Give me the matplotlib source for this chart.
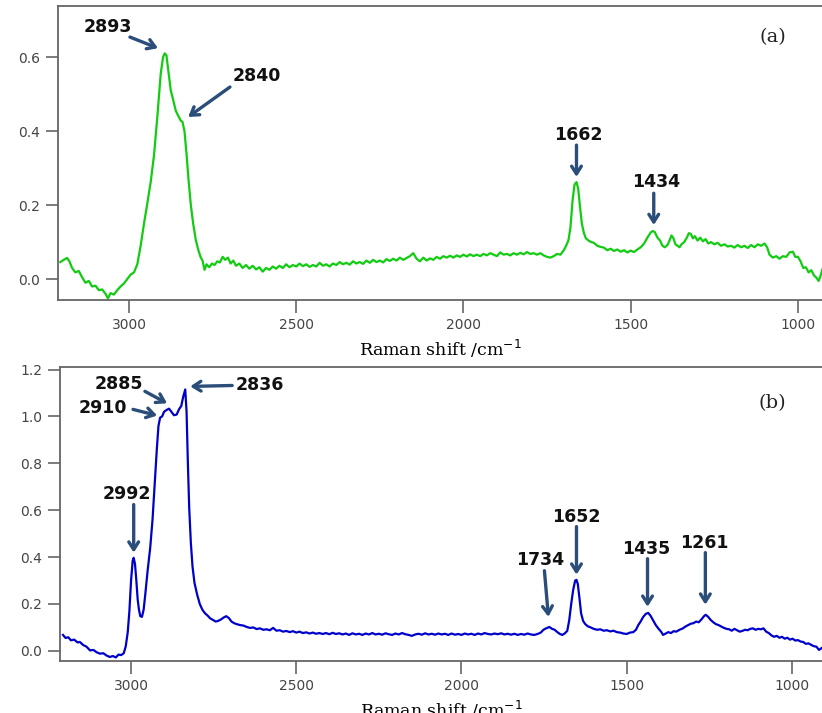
import numpy as np
import matplotlib
matplotlib.use("Agg")
import matplotlib.pyplot as plt

# (a) spectrum
shift_a = [3205, 3195, 3185, 3178, 3170, 3160, 3150, 3140, 3130, 3120, 3110, 3100, 3090, 3080,
           3070, 3063, 3055, 3045, 3035, 3025, 3015, 3005, 2995, 2985, 2975, 2965, 2955, 2945,
           2935, 2925, 2915, 2905, 2898, 2893, 2888, 2882, 2875, 2868, 2860, 2852, 2845, 2840,
           2834, 2828, 2822, 2815, 2808, 2800, 2793, 2786, 2780, 2774, 2768, 2760, 2752, 2744,
           2736, 2728, 2720, 2712, 2704, 2696, 2688, 2680, 2670, 2660, 2650, 2640, 2630, 2620,
           2610, 2600, 2590, 2580, 2570, 2560, 2550, 2540, 2530, 2520, 2510, 2500, 2490, 2480,
           2470, 2460, 2450, 2440, 2430, 2420, 2410, 2400, 2390, 2380, 2370, 2360, 2350, 2340,
           2330, 2320, 2310, 2300, 2290, 2280, 2270, 2260, 2250, 2240, 2230, 2220, 2210, 2200,
           2190, 2180, 2170, 2160, 2150, 2140, 2130, 2120, 2110, 2100, 2090, 2080, 2070, 2060,
           2050, 2040, 2030, 2020, 2010, 2000, 1990, 1980, 1970, 1960, 1950, 1940, 1930, 1920,
           1910, 1900, 1890, 1880, 1870, 1860, 1850, 1840, 1830, 1820, 1810, 1800, 1790, 1780,
           1770, 1760, 1750, 1740, 1730, 1720, 1710, 1700, 1693, 1686, 1680, 1674, 1668, 1662,
           1657, 1652, 1646, 1640, 1634, 1626, 1618, 1610, 1600, 1590, 1580, 1570, 1560, 1550,
           1540, 1530, 1520, 1510, 1500, 1490, 1480, 1470, 1460, 1450, 1440, 1434, 1428, 1420,
           1412, 1405, 1398, 1390, 1384, 1378, 1372, 1366, 1360, 1354, 1348, 1340, 1332, 1326,
           1320, 1314, 1308, 1300, 1292, 1284, 1276, 1268, 1260, 1250, 1240, 1230, 1220, 1210,
           1200, 1190, 1180, 1170, 1160, 1150, 1140, 1130, 1120, 1110, 1100, 1092, 1085, 1075,
           1065, 1055, 1045, 1035, 1025, 1015, 1008, 1000, 992, 984, 976, 968, 960, 952, 945,
           938, 932, 926]
int_a = [0.046, 0.052, 0.057, 0.048, 0.030, 0.018, 0.022, 0.005, -0.010, -0.005, -0.020, -0.018,
         -0.030, -0.028, -0.040, -0.052, -0.038, -0.042, -0.030, -0.020, -0.012, 0.000, 0.012,
         0.018, 0.040, 0.090, 0.150, 0.205, 0.262, 0.335, 0.440, 0.555, 0.600, 0.610, 0.605,
         0.560, 0.510, 0.485, 0.455, 0.440, 0.428, 0.425, 0.400, 0.340, 0.270, 0.200, 0.150,
         0.105, 0.080, 0.060, 0.050, 0.025, 0.040, 0.032, 0.042, 0.038, 0.048, 0.045, 0.060,
         0.052, 0.058, 0.042, 0.050, 0.036, 0.042, 0.030, 0.038, 0.028, 0.036, 0.026, 0.032,
         0.020, 0.030, 0.025, 0.034, 0.028, 0.036, 0.030, 0.040, 0.032, 0.038, 0.034, 0.042,
         0.035, 0.040, 0.033, 0.038, 0.034, 0.044, 0.036, 0.040, 0.034, 0.042, 0.038, 0.046,
         0.040, 0.044, 0.039, 0.048, 0.042, 0.046, 0.041, 0.050, 0.044, 0.052, 0.046, 0.050,
         0.045, 0.054, 0.049, 0.055, 0.050, 0.058, 0.052, 0.057, 0.062, 0.070, 0.055, 0.048,
         0.058, 0.050, 0.056, 0.052, 0.060, 0.055, 0.062, 0.058, 0.063, 0.058, 0.064, 0.060,
         0.066, 0.061, 0.067, 0.062, 0.066, 0.062, 0.068, 0.064, 0.070, 0.066, 0.062, 0.072,
         0.066, 0.068, 0.064, 0.070, 0.066, 0.071, 0.067, 0.073, 0.068, 0.070, 0.066, 0.070,
         0.064, 0.060, 0.058, 0.062, 0.068, 0.066, 0.078, 0.090, 0.105, 0.140, 0.210, 0.255,
         0.262, 0.245, 0.200, 0.150, 0.125, 0.110, 0.104, 0.100, 0.098, 0.090, 0.087, 0.085,
         0.078, 0.082, 0.076, 0.080, 0.074, 0.078, 0.072, 0.077, 0.073, 0.080, 0.086, 0.096,
         0.112, 0.126, 0.130, 0.127, 0.112, 0.104, 0.090, 0.086, 0.092, 0.104, 0.118, 0.110,
         0.094, 0.090, 0.086, 0.094, 0.100, 0.112, 0.124, 0.122, 0.110, 0.116, 0.104, 0.112,
         0.102, 0.108, 0.096, 0.100, 0.094, 0.098, 0.090, 0.094, 0.088, 0.090, 0.085, 0.092,
         0.086, 0.090, 0.084, 0.092, 0.086, 0.094, 0.090, 0.096, 0.086, 0.066, 0.058, 0.062,
         0.055, 0.062, 0.060, 0.072, 0.074, 0.060, 0.060, 0.048, 0.030, 0.032, 0.018, 0.024,
         0.010, 0.004, -0.005, 0.010, 0.028]

# (b) spectrum
shift_b = [3206, 3198, 3190, 3182, 3172, 3162, 3155, 3145, 3135, 3124, 3114, 3104, 3094, 3084,
           3074, 3064, 3055, 3046, 3038, 3030, 3022, 3016, 3010, 3005, 3000, 2995, 2992, 2988,
           2984, 2980, 2976, 2972, 2967, 2962, 2957, 2950, 2942, 2935, 2928, 2922, 2917, 2912,
           2906, 2900, 2892, 2885, 2878, 2870, 2862, 2855, 2848, 2842, 2836, 2832, 2828, 2824,
           2819, 2814, 2808, 2800, 2792, 2784, 2776, 2768, 2760, 2752, 2744, 2736, 2728, 2720,
           2712, 2704, 2696, 2688, 2680, 2670, 2660, 2650, 2640, 2630, 2620, 2610, 2600, 2590,
           2580, 2570, 2560, 2550, 2540, 2530, 2520, 2510, 2500, 2490, 2480, 2470, 2460, 2450,
           2440, 2430, 2420, 2410, 2400, 2390, 2380, 2370, 2360, 2350, 2340, 2330, 2320, 2310,
           2300, 2290, 2280, 2270, 2260, 2250, 2240, 2230, 2220, 2210, 2200, 2190, 2180, 2170,
           2160, 2150, 2140, 2130, 2120, 2110, 2100, 2090, 2080, 2070, 2060, 2050, 2040, 2030,
           2020, 2010, 2000, 1990, 1980, 1970, 1960, 1950, 1940, 1930, 1920, 1910, 1900, 1890,
           1880, 1870, 1860, 1850, 1840, 1830, 1820, 1810, 1800, 1790, 1780, 1770, 1760, 1752,
           1744, 1734, 1726, 1718, 1710, 1702, 1695, 1688, 1680, 1674, 1668, 1662, 1656, 1652,
           1648, 1643, 1638, 1632, 1626, 1618, 1609, 1600, 1590, 1580, 1570, 1560, 1550, 1540,
           1530, 1520, 1510, 1500, 1490, 1480, 1472, 1465, 1458, 1450, 1442, 1435, 1428, 1420,
           1412, 1404, 1396, 1390, 1382, 1374, 1366, 1358, 1350, 1340, 1330, 1322, 1314, 1306,
           1298, 1290, 1282, 1274, 1266, 1261, 1254, 1246, 1238, 1230, 1222, 1214, 1206, 1198,
           1190, 1182, 1174, 1166, 1158, 1150, 1142, 1134, 1126, 1118, 1110, 1102, 1094, 1086,
           1078, 1070, 1062, 1054, 1046, 1038, 1030, 1022, 1014, 1006, 998, 990, 982, 974, 966,
           958, 950, 942, 934, 926, 918, 910]
int_b = [0.068, 0.055, 0.058, 0.045, 0.048, 0.036, 0.038, 0.025, 0.018, 0.002, 0.004, -0.006,
         -0.012, -0.010, -0.020, -0.026, -0.022, -0.028, -0.016, -0.018, -0.010, 0.020, 0.080,
         0.170, 0.300, 0.385, 0.397, 0.370, 0.300, 0.220, 0.175, 0.148, 0.145, 0.175, 0.240,
         0.340, 0.440, 0.560, 0.720, 0.860, 0.960, 0.995, 1.000, 1.020, 1.028, 1.033, 1.020,
         1.005, 1.008, 1.030, 1.045, 1.085, 1.115, 1.020, 0.800, 0.610, 0.460, 0.360, 0.290,
         0.240, 0.200, 0.175, 0.160, 0.150, 0.138, 0.132, 0.125, 0.128, 0.134, 0.142, 0.148,
         0.140, 0.125, 0.118, 0.114, 0.110, 0.108, 0.102, 0.098, 0.100, 0.093, 0.096, 0.090,
         0.092, 0.088, 0.098, 0.086, 0.088, 0.082, 0.085, 0.080, 0.084, 0.078, 0.082, 0.076,
         0.079, 0.074, 0.078, 0.073, 0.076, 0.072, 0.076, 0.071, 0.077, 0.072, 0.075, 0.070,
         0.074, 0.068, 0.075, 0.070, 0.073, 0.068, 0.074, 0.070, 0.076, 0.070, 0.073, 0.069,
         0.075, 0.071, 0.068, 0.074, 0.070, 0.076, 0.071, 0.068, 0.064, 0.070, 0.073, 0.069,
         0.075, 0.070, 0.073, 0.069, 0.074, 0.070, 0.073, 0.068, 0.074, 0.069, 0.072, 0.068,
         0.074, 0.070, 0.073, 0.068, 0.074, 0.070, 0.076, 0.072, 0.070, 0.074, 0.071, 0.075,
         0.070, 0.073, 0.069, 0.073, 0.068, 0.072, 0.069, 0.074, 0.070, 0.068, 0.072, 0.078,
         0.090, 0.096, 0.102, 0.094, 0.090, 0.080, 0.072, 0.068, 0.074, 0.085, 0.130, 0.200,
         0.260, 0.300, 0.303, 0.285, 0.225, 0.160, 0.128, 0.115, 0.105, 0.100, 0.094, 0.090,
         0.092, 0.086, 0.088, 0.083, 0.086, 0.080, 0.078, 0.074, 0.072, 0.078, 0.080, 0.090,
         0.110, 0.125, 0.145, 0.158, 0.162, 0.150, 0.130, 0.110, 0.095, 0.082, 0.068, 0.074,
         0.080, 0.076, 0.084, 0.082, 0.090, 0.096, 0.104, 0.110, 0.116, 0.118, 0.125, 0.122,
         0.134, 0.148, 0.154, 0.146, 0.132, 0.122, 0.114, 0.110, 0.104, 0.098, 0.094, 0.092,
         0.086, 0.094, 0.088, 0.082, 0.085, 0.090, 0.088, 0.094, 0.096, 0.090, 0.094, 0.092,
         0.096, 0.082, 0.076, 0.066, 0.060, 0.064, 0.056, 0.060, 0.052, 0.056, 0.048, 0.052,
         0.044, 0.046, 0.040, 0.038, 0.030, 0.032, 0.026, 0.020, 0.018, 0.004, 0.012]

# peak labels: (text, text x, text y, arrow tail x, tail y, tip x, tip y)
peaks_a = [("2893", 3063, 0.681, 2997, 0.654, 2913, 0.624),
           ("2840", 2617, 0.549, 2698, 0.519, 2823, 0.438),
           ("1662", 1656, 0.389, 1662, 0.362, 1662, 0.276),
           ("1434", 1425, 0.262, 1431, 0.232, 1431, 0.146)]
peaks_b = [("2885", 3036, 1.137, 2958, 1.107, 2891, 1.056),
           ("2910", 3085, 1.034, 2994, 1.030, 2921, 1.004),
           ("2836", 2609, 1.132, 2694, 1.132, 2821, 1.128),
           ("2992", 3012, 0.671, 2992, 0.624, 2992, 0.419),
           ("1734", 1761, 0.389, 1749, 0.342, 1737, 0.145),
           ("1652", 1652, 0.573, 1652, 0.530, 1652, 0.325),
           ("1435", 1440, 0.436, 1437, 0.393, 1437, 0.188),
           ("1261", 1264, 0.462, 1262, 0.419, 1262, 0.197)]

arrow_col = "#2a4d7a"
spine_col = "#666666"
tick_col = "#444444"

fig = plt.figure(figsize=(8.22, 7.13), dpi=100)
ax_a = fig.add_axes([0.0706, 0.579, 0.9294, 0.4126])
ax_b = fig.add_axes([0.073, 0.073, 0.927, 0.412])


def style(ax, xlim, ylim, yticks):
    ax.set_xlim(*xlim)
    ax.set_ylim(*ylim)
    ax.set_yticks(yticks)
    ax.set_yticklabels([f"{v:.1f}" for v in yticks])
    ax.set_xticks([3000, 2500, 2000, 1500, 1000])
    for s in ["left", "top", "bottom"]:
        ax.spines[s].set_color(spine_col)
        ax.spines[s].set_linewidth(1.3)
    ax.spines["right"].set_visible(False)
    ax.tick_params(direction="out", length=9, width=1.2, color=spine_col,
                   labelcolor=tick_col, labelsize=10, pad=4)
    ax.set_xlabel("Raman shift /cm$^{\\mathrm{-1}}$", family="DejaVu Serif",
                  fontsize=12.5, labelpad=4)


def label_peaks(ax, peaks):
    for txt, tx, ty, x0, y0, x1, y1 in peaks:
        ax.text(tx, ty, txt, ha="center", va="center", fontsize=12.5,
                fontweight="bold", color="#111111")
        ax.annotate("", xy=(x1, y1), xytext=(x0, y0),
                    arrowprops=dict(arrowstyle="->,head_width=0.35,head_length=0.55",
                                    color=arrow_col, lw=2.4, shrinkA=0, shrinkB=0))


ax_a.plot(shift_a, int_a, color="#11cc11", lw=1.6)
style(ax_a, (3212, 928), (-0.057, 0.738), [0.0, 0.2, 0.4, 0.6])
label_peaks(ax_a, peaks_a)
ax_a.text(1075, 0.654, "(a)", ha="center", va="center", family="DejaVu Serif",
          fontsize=14, color="#222222")

ax_b.plot(shift_b, int_b, color="#0000cc", lw=1.6)
style(ax_b, (3215, 909), (-0.043, 1.21), [0.0, 0.2, 0.4, 0.6, 0.8, 1.0, 1.2])
label_peaks(ax_b, peaks_b)
ax_b.text(1058, 1.056, "(b)", ha="center", va="center", family="DejaVu Serif",
          fontsize=14, color="#222222")

fig.savefig("out.png", dpi=100)
